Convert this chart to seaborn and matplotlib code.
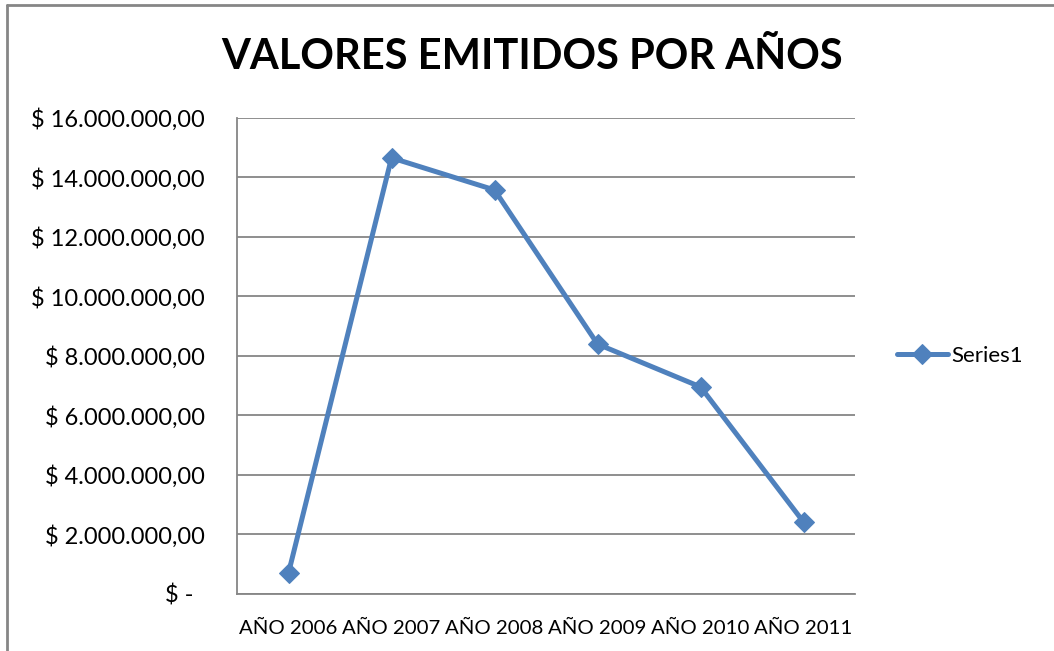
import matplotlib
matplotlib.use("Agg")
import matplotlib.pyplot as plt
import seaborn as sns
import pandas as pd
from matplotlib.lines import Line2D
from matplotlib.ticker import FuncFormatter, MultipleLocator

# data
years = ["AÑO 2006", "AÑO 2007", "AÑO 2008", "AÑO 2009", "AÑO 2010", "AÑO 2011"]
valores = [710000, 14660000, 13580000, 8400000, 6960000, 2420000]
series_name = "Series1"

BLUE = "#4F81BD"
GRID = "#868686"


def money_fmt(v, pos):
    # Excel accounting style: $ 16.000.000,00, zero shown as "$ -"
    if v == 0:
        return "$ -  "
    s = f"{v:,.2f}".replace(",", "X").replace(".", ",").replace("X", ".")
    return f"$ {s}"


def main():
    sns.set_style("white")
    plt.rcParams["font.family"] = ["Lato", "DejaVu Sans"]
    plt.rcParams["text.color"] = "black"
    plt.rcParams["xtick.color"] = "black"
    plt.rcParams["ytick.color"] = "black"

    df = pd.DataFrame({"year": years, "valor": valores, "serie": series_name})

    fig = plt.figure(figsize=(10.54, 6.51), dpi=100)
    ax = fig.add_axes([0.2249, 0.0876, 0.5863, 0.7312])

    sns.lineplot(data=df, x="year", y="valor", ax=ax, color=BLUE, linewidth=3.6,
                 marker="D", markersize=10.5, markeredgecolor=BLUE, sort=False,
                 label=series_name)

    ax.set_xlim(-0.5, len(years) - 0.5)
    ax.set_ylim(0, 16000000)
    ax.yaxis.set_major_locator(MultipleLocator(2000000))
    ax.yaxis.set_major_formatter(FuncFormatter(money_fmt))
    ax.grid(axis="y", color=GRID, linewidth=1.3)
    ax.set_axisbelow(True)
    ax.set_xlabel("")
    ax.set_ylabel("")
    ax.tick_params(axis="y", length=0, pad=23, labelsize=17)
    ax.tick_params(axis="x", length=0, pad=19, labelsize=14.7)

    for side in ["top", "right"]:
        ax.spines[side].set_visible(False)
    for side in ["left", "bottom"]:
        ax.spines[side].set_color(GRID)
        ax.spines[side].set_linewidth(1.3)

    ax.legend(loc="center left", bbox_to_anchor=(1.035, 0.5), frameon=False,
              fontsize=16, handlelength=2.3, handletextpad=0.15)

    fig.text(0.505, 0.912, "VALORES EMITIDOS POR AÑOS", ha="center", va="center",
             fontsize=30, fontweight="bold")

    # chart border (cut off at right and bottom)
    fig.add_artist(Line2D([0.0068, 0.0068], [0, 0.9923], transform=fig.transFigure,
                          color=GRID, linewidth=2))
    fig.add_artist(Line2D([0.0068, 1.0], [0.9923, 0.9923], transform=fig.transFigure,
                          color=GRID, linewidth=2))

    fig.savefig("out.png", dpi=100)


if __name__ == "__main__":
    main()
